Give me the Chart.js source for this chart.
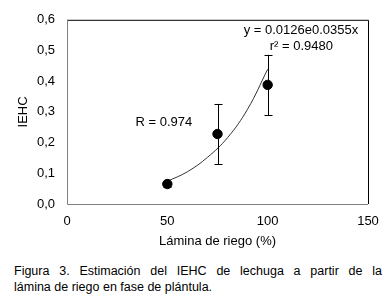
<!DOCTYPE html>
<html>
<head>
<meta charset="utf-8">
<script src="https://cdn.jsdelivr.net/npm/chart.js@4.4.1/dist/chart.umd.min.js"></script>
<style>
  html, body { margin: 0; padding: 0; background: #fff; }
  #wrap { position: relative; width: 391px; height: 300px; overflow: hidden; }
  #caption { position: absolute; left: 14px; top: 263px; width: 368px;
    font-family: 'Liberation Sans', Arial, sans-serif; font-size: 12.5px; line-height: 16px; color: #000; }
  #caption .l1 { text-align: justify; text-align-last: justify; }
</style>
</head>
<body>
<div id="wrap">
  <canvas id="myChart" width="391" height="255"></canvas>
  <div id="caption">
    <div class="l1">Figura 3. Estimación del IEHC de lechuga a partir de la</div>
    <div>lámina de riego en fase de plántula.</div>
  </div>
</div>
<script>
// datos
var lamina = [50, 75, 100];
var iehc = [0.065, 0.228, 0.388];
var errIehc = [0.008, 0.098, 0.098];
var trendX = [50, 60, 70, 80, 90, 100];
var trendY = [0.074, 0.105, 0.152, 0.216, 0.309, 0.439];
var yTicks = ['0,0', '0,1', '0,2', '0,3', '0,4', '0,5', '0,6'];
var xTicks = ['0', '50', '100', '150'];

var canvas = document.getElementById('myChart');
var ctx = canvas.getContext('2d');
const fontFam = "'Liberation Sans', Arial, sans-serif";

// marco del area (arriba/derecha negro, ejes gris)
const frame = {
    id: 'frame',
    beforeDatasetsDraw: function (chart) {
        const a = chart.chartArea;
        const c = chart.ctx;
        c.save();
        c.lineWidth = 1;
        c.strokeStyle = '#000';
        c.beginPath();
        c.moveTo(a.left, a.top + 0.5);
        c.lineTo(a.right + 0.5, a.top + 0.5);
        c.lineTo(a.right + 0.5, a.bottom);
        c.stroke();
        c.strokeStyle = '#808080';
        c.beginPath();
        c.moveTo(a.left + 0.5, a.top);
        c.lineTo(a.left + 0.5, a.bottom + 0.5);
        c.lineTo(a.right, a.bottom + 0.5);
        c.stroke();
        c.restore();
    }
};

// barras de error
const errorBars = {
    id: 'errorBars',
    afterDatasetsDraw: function (chart) {
        const xs = chart.scales.x, ys = chart.scales.y;
        const c = chart.ctx;
        c.save();
        c.strokeStyle = '#000';
        c.lineWidth = 1;
        lamina.forEach(function (v, i) {
            const px = Math.round(xs.getPixelForValue(v)) + 0.5;
            const top = ys.getPixelForValue(iehc[i] + errIehc[i]);
            const bot = ys.getPixelForValue(iehc[i] - errIehc[i]);
            c.beginPath();
            c.moveTo(px, top); c.lineTo(px, bot);
            c.moveTo(px - 4, Math.round(top) + 0.5); c.lineTo(px + 4, Math.round(top) + 0.5);
            c.moveTo(px - 4, Math.round(bot) + 0.5); c.lineTo(px + 4, Math.round(bot) + 0.5);
            c.stroke();
        });
        c.restore();
    }
};

// textos de la ecuacion
const labels = {
    id: 'labels',
    afterDraw: function (chart) {
        const xs = chart.scales.x, ys = chart.scales.y;
        const c = chart.ctx;
        c.save();
        c.fillStyle = '#000';
        c.font = '13px ' + fontFam;
        c.textAlign = 'center';
        c.textBaseline = 'middle';
        c.fillText('y = 0.0126e0.0355x', xs.getPixelForValue(116.6), ys.getPixelForValue(0.565));
        c.fillText('r\u00B2 = 0.9480', xs.getPixelForValue(116.8), ys.getPixelForValue(0.513));
        c.fillText('R = 0.974', xs.getPixelForValue(48.3), ys.getPixelForValue(0.266));
        c.restore();
    }
};

const config = {
    type: 'scatter',
    data: {
        datasets: [{
            label: 'IEHC',
            data: lamina.map((x, i) => ({ x: x, y: iehc[i] })),
            backgroundColor: '#000',
            borderColor: '#000',
            pointRadius: 4.7,
            order: 1
        }, {
            label: 'tendencia',
            type: 'line',
            data: trendX.map((x, i) => ({ x: x, y: trendY[i] })),
            borderColor: '#333',
            borderWidth: 1,
            pointRadius: 0,
            tension: 0.4,
            fill: false,
            order: 2
        }]
    },
    options: {
        responsive: false,
        animation: false,
        layout: { padding: { top: 17, right: 23, left: 0, bottom: 0 } },
        scales: {
            x: {
                type: 'linear',
                min: 0,
                max: 150,
                grid: { display: false, drawTicks: false },
                border: { display: false },
                afterFit: function (s) { s.height = 51; },
                ticks: {
                    stepSize: 50,
                    padding: 10,
                    color: '#000',
                    font: { family: fontFam, size: 13 },
                    callback: function (v, i) { return xTicks[i]; }
                },
                title: {
                    display: true,
                    text: 'Lámina de riego (%)',
                    color: '#000',
                    font: { family: fontFam, size: 13 },
                    padding: { top: 0, bottom: 6 }
                }
            },
            y: {
                min: 0,
                max: 0.6,
                grid: { display: false, drawTicks: false },
                border: { display: false },
                afterFit: function (s) { s.width = 67; },
                ticks: {
                    stepSize: 0.1,
                    padding: 12,
                    color: '#000',
                    font: { family: fontFam, size: 13 },
                    callback: function (v, i) { return yTicks[i]; }
                },
                title: {
                    display: true,
                    text: 'IEHC',
                    color: '#000',
                    font: { family: fontFam, size: 13 },
                    padding: { top: 16, bottom: 0 }
                }
            }
        },
        plugins: {
            legend: false,
            tooltip: { enabled: false }
        }
    },
    plugins: [frame, errorBars, labels]
};

new Chart(ctx, config);
</script>
</body>
</html>
